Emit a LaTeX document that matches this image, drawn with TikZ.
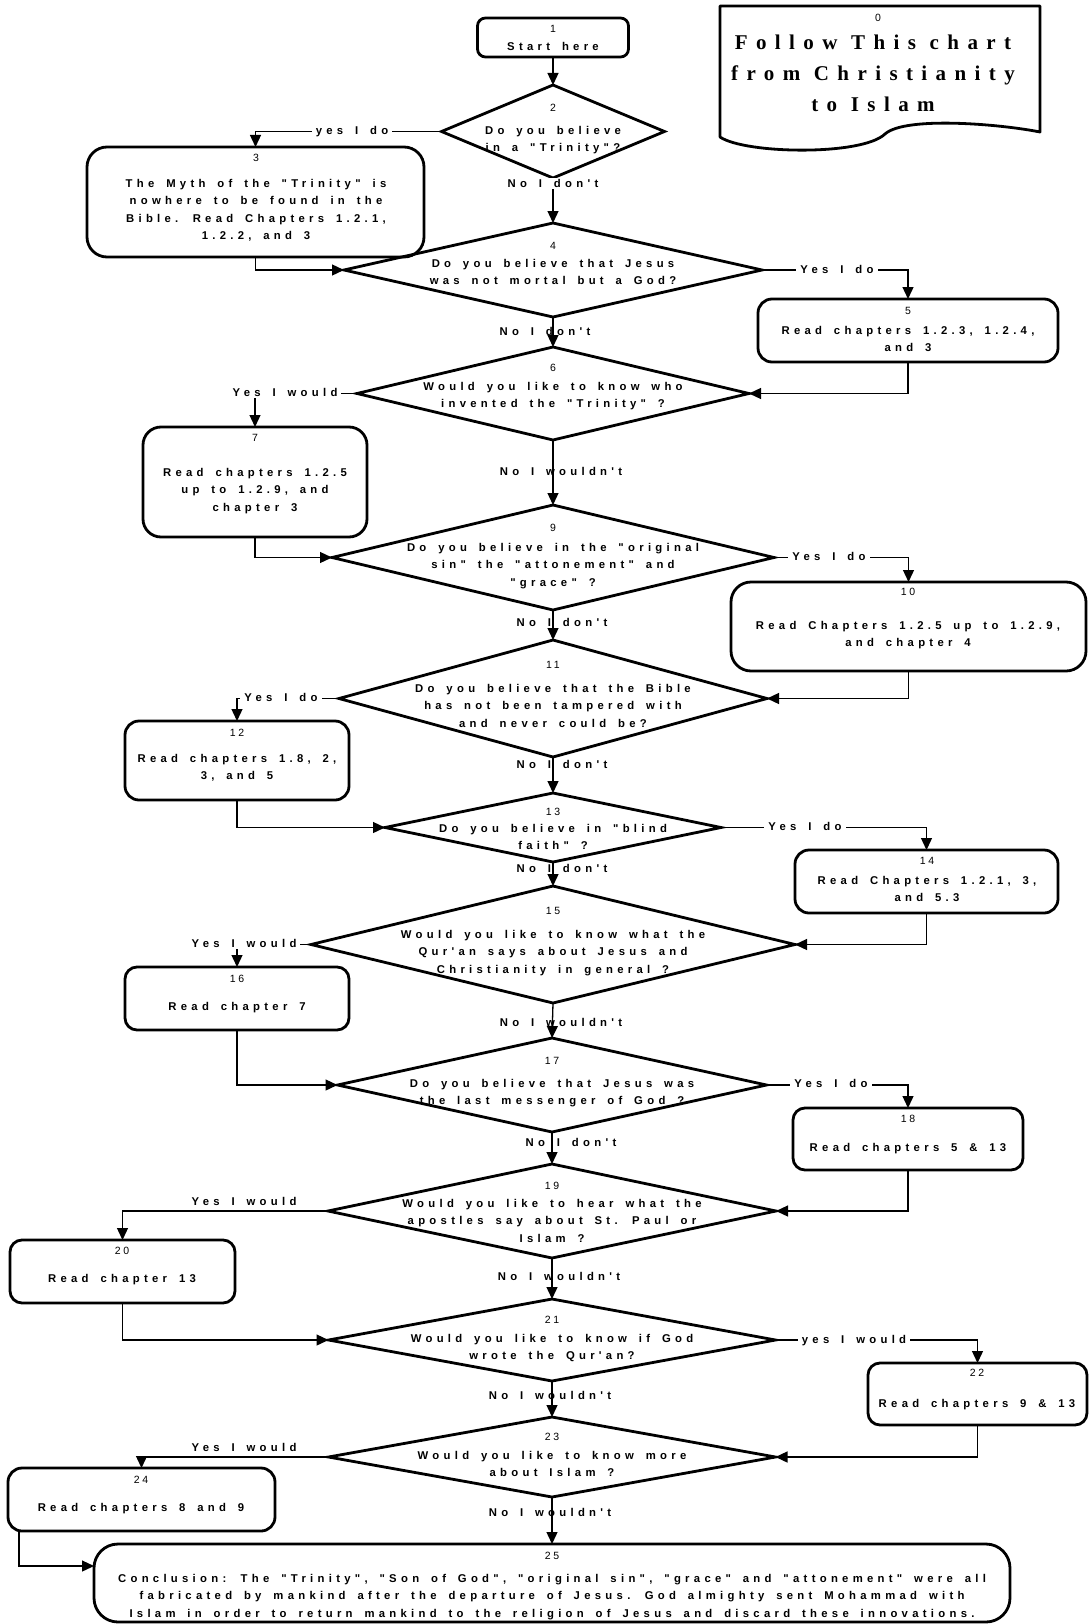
\documentclass[tikz,border=0pt]{standalone}
\usepackage{fontspec}
\setmainfont{Liberation Sans}
\newfontfamily\chtext{Liberation Sans}[LetterSpace=38,WordSpace=1.6,Ligatures=TeXOff]
\newfontfamily\chnum{Liberation Sans}[LetterSpace=25]
\newfontfamily\chtitle{Liberation Serif}[LetterSpace=40]
\usetikzlibrary{shapes.geometric,arrows.meta}
\begin{document}
\begin{tikzpicture}[x=1pt,y=-1pt,
 shp/.style={draw=black,line width=2.8pt,inner sep=0pt,outer sep=0pt},
 rbox/.style={shp,rectangle,rounded corners=#1},
 rbox/.default=12pt,
 dia/.style={shp,diamond},
 conn/.style={line width=1.3pt,-{Triangle[length=12pt,width=11pt]}},
 txt/.style={font=\chtext\bfseries\fontsize{11.3}{17.5}\selectfont,align=center,inner sep=0pt,anchor=north},
 num/.style={font=\chnum\fontsize{10.5}{12}\selectfont,inner sep=0pt},
 lab/.style={font=\chtext\bfseries\fontsize{11.3}{12}\selectfont,inner xsep=4pt,inner ysep=1.5pt,anchor=base},
 labw/.style={lab,fill=white},
]
\useasboundingbox (0,0) rectangle (1089,1624);
\fill[white] (0,0) rectangle (1089,1624);

% ---- document shape 0
\draw[line width=2.8pt,line join=round] (720,6) -- (1040,6) -- (1040,132)
  .. controls (1000,124) and (905,116) .. (885,134)
  .. controls (862,156) and (745,154) .. (720,137) -- cycle;
\node[num] (n0) at (878,18) {0};
\node[font=\chtitle\bfseries\fontsize{21}{31}\selectfont,align=center,inner sep=0pt,anchor=north] (t0) at (873,35) {Follow This chart\\from Christianity\\to Islam};

% ---- shapes
\node[rbox=8pt,minimum width=151pt,minimum height=39pt] (b1) at (553,37.5) {};
\node[dia,minimum width=223pt,minimum height=93pt] (d2) at (553,131.5) {};
\node[rbox=20pt,minimum width=337pt,minimum height=110pt] (b3) at (255.5,202) {};
\node[dia,minimum width=418pt,minimum height=94pt] (d4) at (553,270) {};
\node[rbox=14pt,minimum width=300pt,minimum height=63pt] (b5) at (908,330.5) {};
\node[dia,minimum width=392pt,minimum height=93pt] (d6) at (553,393.5) {};
\node[rbox=18pt,minimum width=224pt,minimum height=110pt] (b7) at (255,482) {};
\node[dia,minimum width=442pt,minimum height=105pt] (d9) at (553,557.5) {};
\node[rbox=20pt,minimum width=355pt,minimum height=89pt] (b10) at (908.5,626.5) {};
\node[dia,minimum width=428pt,minimum height=117pt] (d11) at (553,698.5) {};
\node[rbox=14pt,minimum width=224pt,minimum height=79pt] (b12) at (237,760.5) {};
\node[dia,minimum width=336pt,minimum height=69pt] (d13) at (553,827.5) {};
\node[rbox=14pt,minimum width=263pt,minimum height=63pt] (b14) at (926.5,881.5) {};
\node[dia,minimum width=484pt,minimum height=117pt] (d15) at (553,944.5) {};
\node[rbox=12pt,minimum width=224pt,minimum height=63pt] (b16) at (237,998.5) {};
\node[dia,minimum width=429pt,minimum height=94pt] (d17) at (552,1085) {};
\node[rbox=12pt,minimum width=230pt,minimum height=62pt] (b18) at (908,1139) {};
\node[dia,minimum width=448pt,minimum height=94pt] (d19) at (552,1211) {};
\node[rbox=12pt,minimum width=225pt,minimum height=63pt] (b20) at (122.5,1271.5) {};
\node[dia,minimum width=447pt,minimum height=82pt] (d21) at (552,1340) {};
\node[rbox=12pt,minimum width=219pt,minimum height=62pt] (b22) at (977.5,1394) {};
\node[dia,minimum width=447pt,minimum height=80pt] (d23) at (552,1457) {};
\node[rbox=14pt,minimum width=267pt,minimum height=63pt] (b24) at (141.5,1499.5) {};
\node[rbox=24pt,minimum width=916pt,minimum height=78pt] (b25) at (552,1583) {};
\coordinate (c24) at (19,1566);

% ---- connectors
\draw[conn] (b1.south) -- (d2.north);
\draw[conn] (d2.west) -| (b3.north);
\draw[conn] (d2.south) -- (d4.north);
\draw[conn] (b3.south) |- (d4.west);
\draw[conn] (d4.east) -| (b5.north);
\draw[conn] (d4.south) -- (d6.north);
\draw[conn] (b5.south) |- (d6.east);
\draw[conn] (d6.west) -| (b7.north);
\draw[conn] (d6.south) -- (d9.north);
\draw[conn] (b7.south) |- (d9.west);
\draw[conn] (d9.east) -| (b10.north);
\draw[conn] (d9.south) -- (d11.north);
\draw[conn] (b10.south) |- (d11.east);
\draw[conn] (d11.west) -| (b12.north);
\draw[conn] (d11.south) -- (d13.north);
\draw[conn] (b12.south) |- (d13.west);
\draw[conn] (d13.east) -| (b14.north);
\draw[conn] (d13.south) -- (d15.north);
\draw[conn] (b14.south) |- (d15.east);
\draw[conn] (d15.west) -| (b16.north);
\draw[conn] (d15.south) -- (d17.north);
\draw[conn] (b16.south) |- (d17.west);
\draw[conn] (d17.east) -| (b18.north);
\draw[conn] (d17.south) -- (d19.north);
\draw[conn] (b18.south) |- (d19.east);
\draw[conn] (d19.west) -| (b20.north);
\draw[conn] (d19.south) -- (d21.north);
\draw[conn] (b20.south) |- (d21.west);
\draw[conn] (d21.east) -| (b22.north);
\draw[conn] (d21.south) -- (d23.north);
\draw[conn] (b22.south) |- (d23.east);
\draw[conn] (d23.west) -| (b24.north);
\draw[conn] (d23.south) -- (b25.north);
\draw[conn] (b24.south -| c24) -- (c24) -- (c24 -| b25.west);

% ---- connector labels
\node[labw] (l2) at (352,134.8) {yes I do};
\node[labw] (l2n) at (553,187.8) {No I don't};
\node[labw] (l4) at (837,273.8) {Yes I do};
\node[lab] (l4n) at (545,335.8) {No I don't};
\node[labw] (l6) at (285,396.8) {Yes I would};
\node[lab] (l6n) at (561,475.8) {No I wouldn't};
\node[labw] (l9) at (829,560.8) {Yes I do};
\node[lab] (l9n) at (562,626.8) {No I don't};
\node[labw] (l11) at (281,701.8) {Yes I do};
\node[lab] (l11n) at (562,768.8) {No I don't};
\node[labw] (l13) at (805,830.8) {Yes I do};
\node[lab] (l13n) at (562,872.8) {No I don't};
\node[labw] (l15) at (244,947.8) {Yes I would};
\node[lab] (l15n) at (561,1026.8) {No I wouldn't};
\node[labw] (l17) at (831,1087.8) {Yes I do};
\node[lab] (l17n) at (571,1146.8) {No I don't};
\node[lab] (l19) at (244,1205.8) {Yes I would};
\node[lab] (l19n) at (559,1280.8) {No I wouldn't};
\node[labw] (l21) at (854,1343.8) {yes I would};
\node[lab] (l21n) at (550,1399.8) {No I wouldn't};
\node[lab] (l23) at (244,1451.8) {Yes I would};
\node[lab] (l23n) at (550,1516.8) {No I wouldn't};

% ---- numbers
\node[num] (n1) at (553,29) {1};
\node[num] (n2) at (553,108) {2};
\node[num] (n3) at (256,158) {3};
\node[num] (n4) at (553,246) {4};
\node[num] (n5) at (908,311) {5};
\node[num] (n6) at (553,368) {6};
\node[num] (n7) at (255,438) {7};
\node[num] (n9) at (553,528) {9};
\node[num] (n10) at (908,592) {10};
\node[num] (n11) at (553,665) {11};
\node[num] (n12) at (237,733) {12};
\node[num] (n13) at (553,812) {13};
\node[num] (n14) at (927,861) {14};
\node[num] (n15) at (553,911) {15};
\node[num] (n16) at (237,979) {16};
\node[num] (n17) at (552,1061) {17};
\node[num] (n18) at (908,1119) {18};
\node[num] (n19) at (552,1186) {19};
\node[num] (n20) at (122,1251) {20};
\node[num] (n21) at (552,1320) {21};
\node[num] (n22) at (977,1373) {22};
\node[num] (n23) at (552,1437) {23};
\node[num] (n24) at (141,1480) {24};
\node[num] (n25) at (552,1556) {25};

% ---- texts
\node[txt] (t1) at (553,42) {Start here};
\node[txt] (t2) at (553,126) {Do you believe\\in a "Trinity"?};
\node[txt] (t3) at (256,179) {The Myth of the "Trinity" is\\nowhere to be found in the\\Bible. Read Chapters 1.2.1,\\1.2.2, and 3};
\node[txt] (t4) at (553,259) {Do you believe that Jesus\\was not mortal but a God?};
\node[txt] (t5) at (908,326) {Read chapters 1.2.3, 1.2.4,\\and 3};
\node[txt] (t6) at (553,382) {Would you like to know who\\invented the "Trinity" ?};
\node[txt] (t7) at (255,468) {Read chapters 1.2.5\\up to 1.2.9, and\\chapter 3};
\node[txt] (t9) at (553,543) {Do you believe in the "original\\sin" the "attonement" and\\"grace" ?};
\node[txt] (t10) at (908,621) {Read Chapters 1.2.5 up to 1.2.9,\\and chapter 4};
\node[txt] (t11) at (553,684) {Do you believe that the Bible\\has not been tampered with\\and never could be?};
\node[txt] (t12) at (237,754) {Read chapters 1.8, 2,\\3, and 5};
\node[txt] (t13) at (553,824) {Do you believe in "blind\\faith" ?};
\node[txt] (t14) at (927,876) {Read Chapters 1.2.1, 3,\\and 5.3};
\node[txt] (t15) at (553,930) {Would you like to know what the\\Qur'an says about Jesus and\\Christianity in general ?};
\node[txt] (t16) at (237,1002) {Read chapter 7};
\node[txt] (t17) at (552,1079) {Do you believe that Jesus was\\the last messenger of God ?};
\node[txt] (t18) at (908,1143) {Read chapters 5 \& 13};
\node[txt] (t19) at (552,1199) {Would you like to hear what the\\apostles say about St. Paul or\\Islam ?};
\node[txt] (t20) at (122,1274) {Read chapter 13};
\node[txt] (t21) at (552,1334) {Would you like to know if God\\wrote the Qur'an?};
\node[txt] (t22) at (977,1399) {Read chapters 9 \& 13};
\node[txt] (t23) at (552,1451) {Would you like to know more\\about Islam ?};
\node[txt] (t24) at (141,1503) {Read chapters 8 and 9};
\node[txt] (t25) at (552,1574) {Conclusion: The "Trinity", "Son of God", "original sin", "grace" and "attonement" were all\\fabricated by mankind after the departure of Jesus. God almighty sent Mohammad with\\Islam in order to return mankind to the religion of Jesus and discard these innovations.};
\end{tikzpicture}
\end{document}
